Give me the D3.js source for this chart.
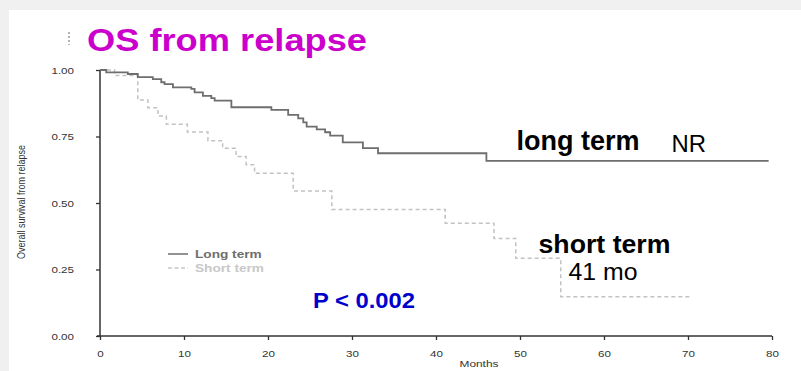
<!DOCTYPE html>
<html>
<head>
<meta charset="utf-8">
<script src="https://cdn.jsdelivr.net/npm/d3@7"></script>
<style>
  html, body { margin: 0; padding: 0; background: #f0f0f0; }
  svg { display: block; font-family: "Liberation Sans", Arial, sans-serif; }
</style>
</head>
<body>
<svg id="chart" width="801" height="371"></svg>
<script>
// Kaplan–Meier step data: event times (months) and survival after each step
const longTimes = [0, 0.74, 3.31, 4.5, 6.29, 7.29, 7.69, 8.68, 10.87, 11.26, 12.25, 13.25, 13.65, 15.64, 20.4, 22.4, 23.6, 24.2, 24.6, 25.8, 26.8, 27.4, 28.9, 31.3, 33.1, 46.0];
const longSurv  = [1, 0.991, 0.985, 0.973, 0.966, 0.954, 0.947, 0.935, 0.929, 0.916, 0.903, 0.894, 0.885, 0.860, 0.850, 0.831, 0.818, 0.803, 0.787, 0.777, 0.766, 0.753, 0.728, 0.706, 0.687, 0.658];
const longEnd = 79.6;

const shortTimes = [0, 1.73, 4.5, 5.7, 6.9, 7.9, 10.4, 12.85, 14.6, 16.2, 17.4, 18.4, 23.0, 27.6, 41.1, 46.9, 49.5, 54.85];
const shortSurv  = [1, 0.979, 0.887, 0.858, 0.827, 0.796, 0.767, 0.734, 0.706, 0.675, 0.644, 0.612, 0.545, 0.476, 0.424, 0.367, 0.292, 0.148];
const shortEnd = 70.5;

const xTicks = [0, 10, 20, 30, 40, 50, 60, 70, 80];
const yTicks = [0, 0.25, 0.5, 0.75, 1];
const legendLabels = ["Long term", "Short term"];

const svg = d3.select("#chart");

// white slide panel
svg.append("rect").attr("x", 9).attr("y", 10).attr("width", 792).attr("height", 361).attr("fill", "#ffffff");

const x = d3.scaleLinear().domain([0, 80]).range([100, 772]);
const y = d3.scaleLinear().domain([0, 1]).range([336, 70]);

// horizontally widened text, as in the exported plot
function widen(sel, f) {
  sel.each(function () {
    const w = this.getComputedTextLength();
    d3.select(this).attr("textLength", w * f).attr("lengthAdjust", "spacingAndGlyphs");
  });
}

// axes
const xAxis = svg.append("g").attr("transform", "translate(0,336)")
  .call(d3.axisBottom(x).tickValues(xTicks).tickFormat(d3.format("d")).tickSize(4).tickPadding(10));
const yAxis = svg.append("g").attr("transform", "translate(100,0)")
  .call(d3.axisLeft(y).tickValues(yTicks).tickFormat(d3.format(".2f")).tickSize(4).tickPadding(22));

[xAxis, yAxis].forEach(g => {
  g.select(".domain").attr("stroke", "#333").attr("stroke-width", 1.5);
  g.selectAll(".tick line").attr("stroke", "#333").attr("stroke-width", 1.3);
  g.selectAll(".tick text").attr("fill", "#333").attr("font-size", 9.5)
    .attr("font-family", "Liberation Sans, Arial, sans-serif");
});
// x axis spans the full plot from the y axis; redraw domain without outer end ticks
xAxis.select(".domain").attr("d", `M${x(0) - 3},0H${x(80)}`);
yAxis.select(".domain").attr("d", `M0,${y(1)}V${y(0)}`);
widen(xAxis.selectAll(".tick text"), 1.22);
widen(yAxis.selectAll(".tick text"), 1.22);

// axis titles
const months = svg.append("text").attr("x", 479).attr("y", 367).attr("text-anchor", "middle")
  .attr("font-size", 9.5).attr("fill", "#333").text("Months");
widen(months, 1.25);
svg.append("text").attr("transform", "translate(25,202) scale(1.22,1) rotate(-90)").attr("text-anchor", "middle")
  .attr("font-size", 9).attr("fill", "#333").text("Overall survival from relapse");

// survival curves
const line = d3.line().x(d => x(d[0])).y(d => y(d[1])).curve(d3.curveStepAfter);
function pts(times, surv, end) {
  const p = times.map((t, i) => [t, surv[i]]);
  p.push([end, surv[surv.length - 1]]);
  return p;
}
svg.append("path").datum(pts(shortTimes, shortSurv, shortEnd)).attr("d", line)
  .attr("fill", "none").attr("stroke", "#c2c2c2").attr("stroke-width", 1.5).attr("stroke-dasharray", "4,3");
svg.append("path").datum(pts(longTimes, longSurv, longEnd)).attr("d", line)
  .attr("fill", "none").attr("stroke", "#6e6e6e").attr("stroke-width", 1.8);

// legend
const legColors = ["#6e6e6e", "#c8c8c8"];
const leg = svg.append("g");
legendLabels.forEach((lab, i) => {
  const yy = 254 + i * 14;
  leg.append("line").attr("x1", 168).attr("x2", 188).attr("y1", yy).attr("y2", yy)
    .attr("stroke", legColors[i]).attr("stroke-width", 1.5)
    .attr("stroke-dasharray", i === 1 ? "4,2.5" : null);
  const t = leg.append("text").attr("x", 195).attr("y", yy + 4).attr("font-size", 11)
    .attr("font-weight", "bold").attr("fill", legColors[i]).text(lab);
  widen(t, 1.24);
});

// slide annotations
svg.append("line").attr("x1", 69).attr("x2", 69).attr("y1", 32).attr("y2", 45)
  .attr("stroke", "#999").attr("stroke-width", 1.5).attr("stroke-dasharray", "2,2");
svg.append("text").attr("x", 87).attr("y", 51).attr("font-size", 32).attr("font-weight", "bold")
  .attr("fill", "#cc00cc").attr("textLength", 280).attr("lengthAdjust", "spacingAndGlyphs")
  .text("OS from relapse");
svg.append("text").attr("x", 516.5).attr("y", 150).attr("font-size", 27).attr("font-weight", "bold")
  .attr("fill", "#000").attr("textLength", 123).attr("lengthAdjust", "spacingAndGlyphs").text("long term");
svg.append("text").attr("x", 671.5).attr("y", 151.5).attr("font-size", 23)
  .attr("fill", "#000").attr("textLength", 34.5).attr("lengthAdjust", "spacingAndGlyphs").text("NR");
svg.append("text").attr("x", 538.5).attr("y", 253).attr("font-size", 26.5).attr("font-weight", "bold")
  .attr("fill", "#000").attr("textLength", 132).attr("lengthAdjust", "spacingAndGlyphs").text("short term");
svg.append("text").attr("x", 568.5).attr("y", 280).attr("font-size", 23.5)
  .attr("fill", "#000").attr("textLength", 69).attr("lengthAdjust", "spacingAndGlyphs").text("41 mo");
svg.append("text").attr("x", 313).attr("y", 308).attr("font-size", 22).attr("font-weight", "bold")
  .attr("fill", "#0000cc").attr("textLength", 102).attr("lengthAdjust", "spacingAndGlyphs").text("P < 0.002");
</script>
</body>
</html>
